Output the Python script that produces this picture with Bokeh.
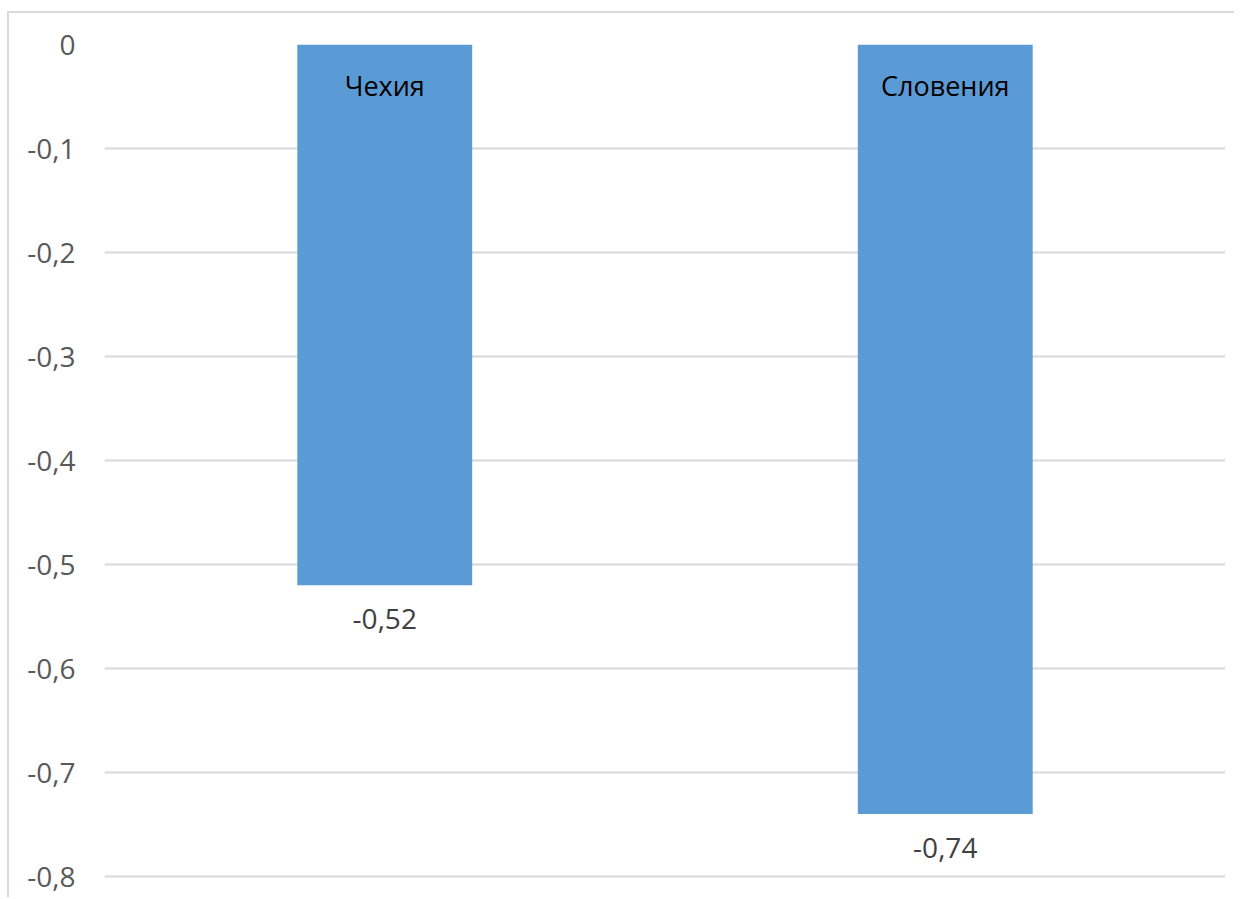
from bokeh.plotting import figure
from bokeh.models import Range1d, FactorRange, FixedTicker, CustomJSTickFormatter, ColumnDataSource
from bokeh.core.properties import value
from bokeh.embed import file_html
from bokeh.resources import INLINE

categories = ["Чехия", "Словения"]
values = [-0.52, -0.74]
value_labels = ["-0,52", "-0,74"]
y_ticks = [0, -0.1, -0.2, -0.3, -0.4, -0.5, -0.6, -0.7, -0.8]

src = ColumnDataSource(dict(cat=categories, val=values, lab=value_labels, zero=[0] * len(values)))

p = figure(
    x_range=FactorRange(*categories, range_padding=0),
    y_range=Range1d(-0.805769, 0),
    width=1227, height=886,
    output_backend="svg", toolbar_location=None,
    min_border_left=95, min_border_right=11, min_border_top=31, min_border_bottom=17,
)
p.styles = {"border-left": "2px solid #d9d9d9", "border-top": "2px solid #d9d9d9",
            "margin-top": "11px", "margin-left": "7px"}
p.outline_line_color = None
p.background_fill_color = "white"
p.border_fill_color = "white"

p.vbar(x="cat", top="zero", bottom="val", width=0.312, source=src, fill_color="#5b9bd5", line_color=None)

p.text(x="cat", y="zero", text="cat", source=src, text_align="center", text_baseline="middle",
       y_offset=41, text_font=value("Open Sans"), text_font_size="27px", text_color="#000000")
p.text(x="cat", y="val", text="lab", source=src, text_align="center", text_baseline="middle",
       y_offset=34, text_font=value("Open Sans"), text_font_size="28px", text_color="#404040")

p.xaxis.visible = False
p.xgrid.grid_line_color = None
p.ygrid.grid_line_color = "#d9d9d9"
p.ygrid.grid_line_width = 2
p.yaxis.ticker = FixedTicker(ticks=y_ticks)
p.yaxis.formatter = CustomJSTickFormatter(code="return Math.abs(tick) < 1e-9 ? '0' : tick.toFixed(1).replace('.', ',');")
p.yaxis.axis_line_color = None
p.yaxis.major_tick_line_color = None
p.yaxis.minor_tick_line_color = None
p.yaxis.major_label_standoff = 23
p.yaxis.major_label_text_font = "Open Sans"
p.yaxis.major_label_text_font_size = "28px"
p.yaxis.major_label_text_color = "#595959"

open("out.html", "w").write(file_html(p, INLINE))
